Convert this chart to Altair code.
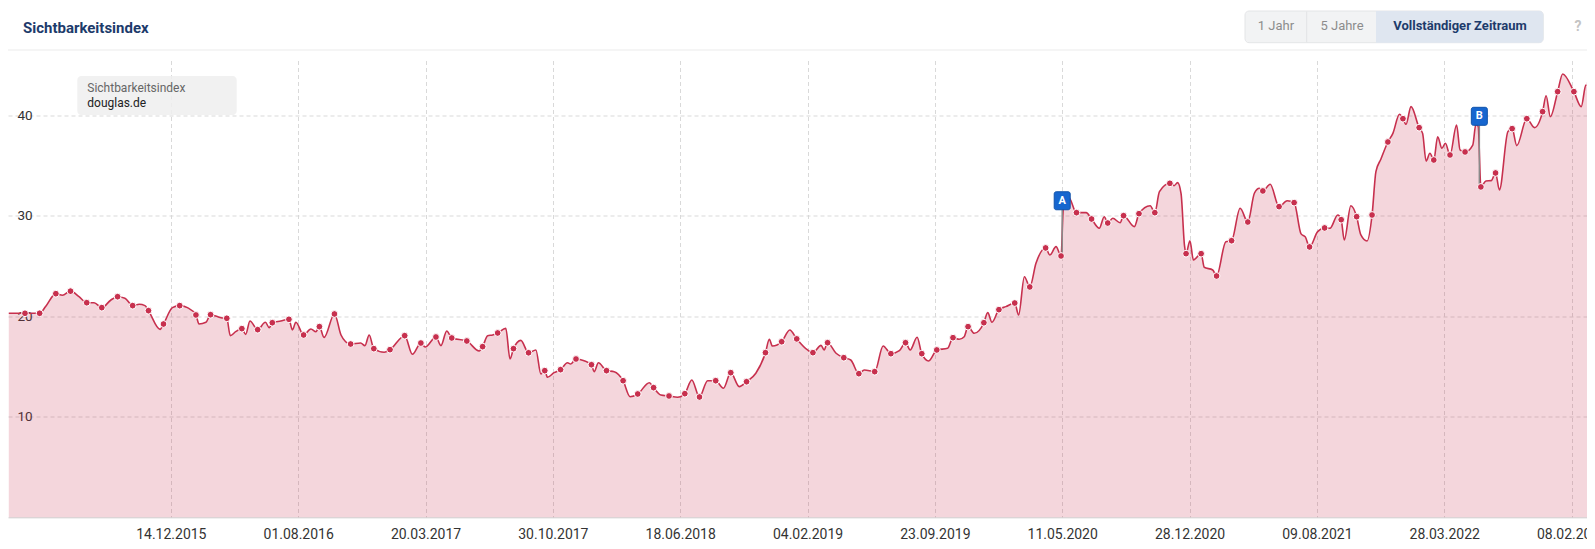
import altair as alt
import pandas as pd

# ---------------- data ----------------
metric_name = "Sichtbarkeitsindex"
domain_name = "douglas.de"
range_buttons = ["1 Jahr", "5 Jahre", "Vollständiger Zeitraum"]

tick_week = [42, 75, 108, 141, 174, 207, 240, 273, 306, 339, 372, 405]
tick_label = ["14.12.2015", "01.08.2016", "20.03.2017", "30.10.2017", "18.06.2018",
              "04.02.2019", "23.09.2019", "11.05.2020", "28.12.2020", "09.08.2021",
              "28.03.2022", "08.02.2023"]
y_ticks = [10, 20, 30, 40]

line_week = [0, 4.2, 8.0, 9.6, 12.2, 13.9, 16.0, 18.2, 20.2, 22.1, 24.1, 26.4, 28.2, 30.1, 32.1,
             33.8, 35.3, 36.2, 39.2, 40.1, 42.4, 44.3, 46.3, 48.5, 49.3, 51.1, 52.3, 55.0, 56.5,
             57.4, 58.8, 60.4, 61.4, 62.5, 64.5, 66.5, 67.5, 68.3, 70.5, 72.6, 73.5, 74.4, 76.4,
             78.3, 79.6, 80.5, 81.7, 84.4, 86.1, 87.3, 88.6, 91.2, 92.3, 93.4, 94.6, 97.3, 98.8,
             102.6, 104.6, 106.8, 107.9, 110.7, 112.0, 113.5, 114.8, 118.7, 121.9, 122.8, 124.1,
             125.4, 126.7, 128.8, 129.9, 130.8, 132.7, 134.7, 136.6, 137.9, 138.9, 139.6, 141.3,
             143.0, 144.8, 145.6, 147.0, 149.1, 151.0, 151.7, 152.8, 154.9, 156.9, 159.2, 161.0,
             163.0, 166.0, 167.1, 169.0, 171.1, 173.3, 175.2, 177.0, 179.0, 181.1, 183.2, 185.2,
             187.1, 189.3, 191.2, 193.6, 196.1, 197.1, 197.9, 200.3, 202.4, 204.2, 207.0, 208.4,
             210.5, 211.3, 212.2, 214.4, 216.4, 218.2, 220.3, 221.7, 224.4, 226.6, 228.6, 230.8,
             232.4, 233.6, 235.4, 236.6, 238.4, 240.5, 243.3, 244.7, 246.3, 247.6, 248.6, 250.2,
             252.7, 253.7, 254.8, 256.6, 258.4, 260.7, 261.7, 263.2, 264.6, 266.2, 268.7, 269.8,
             271.4, 272.7, 273.3, 274.6, 276.7, 279.2, 280.6, 282.6, 283.9, 284.8, 286.1, 288.0,
             288.9, 291.7, 292.9, 295.8, 297.0, 298.2, 300.9, 302.0, 302.9, 303.8, 304.7, 305.1,
             306.1, 307.0, 309.0, 309.8, 312.0, 313.0, 315.4, 316.9, 319.1, 321.1, 322.8, 324.1,
             325.0, 326.9, 329.2, 331.3, 333.1, 334.9, 336.0, 337.1, 339.2, 341.0, 342.4, 344.4,
             345.3, 346.1, 347.8, 349.3, 350.4, 352.0, 353.3, 354.3, 355.6, 357.4, 358.7, 360.4,
             361.3, 362.1, 363.4, 365.5, 366.4, 367.3, 368.3, 369.3, 370.3, 371.4, 372.3, 373.5,
             375.2, 376.1, 377.4, 379.4, 380.2, 380.8, 381.5, 382.8, 384.2, 385.3, 386.3, 388.5,
             389.6, 390.8, 393.4, 395.4, 397.5, 398.4, 399.5, 401.4, 402.7, 405.6, 407.5, 408.7,
             409.8, 410.5, 411.1]
line_value = [20.3, 20.3, 20.3, 21.0, 22.25, 22.1, 22.5, 21.95, 21.35, 21.35, 20.86, 21.6, 21.95,
              21.8, 21.06, 21.2, 21.06, 20.56, 18.7, 19.23, 20.86, 21.06, 20.86, 20.13, 19.23, 19.4,
              20.16, 19.86, 19.8, 18.07, 18.47, 18.77, 18.2, 19.53, 18.67, 19.4, 18.87, 19.36, 19.53,
              19.7, 18.64, 19.4, 18.14, 18.74, 18.47, 18.97, 17.9, 20.23, 18.14, 17.47, 17.24, 17.34,
              17.08, 18.14, 16.78, 16.42, 16.68, 18.07, 16.22, 17.34, 16.94, 17.94, 17.08, 18.54,
              17.84, 17.54, 16.55, 16.98, 18.07, 18.14, 18.34, 18.8, 15.75, 16.78, 17.6, 16.37,
              16.65, 14.26, 14.59, 13.93, 14.39, 14.69, 15.38, 15.25, 15.75, 15.58, 15.18, 14.49,
              15.38, 14.59, 14.49, 13.59, 12.0, 12.27, 13.39, 12.9, 12.17, 12.07, 11.94, 12.3, 13.66,
              11.97, 13.59, 13.59, 12.84, 14.39, 13.0, 13.49, 14.33, 16.38, 17.71, 17.04, 17.47,
              18.64, 17.75, 16.65, 16.38, 17.11, 16.65, 17.37, 16.32, 15.88, 15.65, 14.29, 14.66,
              14.49, 17.05, 16.28, 16.58, 17.37, 16.65, 17.91, 16.28, 15.55, 16.65, 16.81, 17.87,
              17.71, 17.97, 18.97, 18.31, 19.36, 20.36, 19.4, 20.66, 20.96, 21.32, 20.13, 23.94,
              22.92, 25.27, 26.8, 26.1, 26.93, 26.0, 30.8, 31.9, 30.31, 30.31, 29.68, 28.76, 29.91,
              29.28, 29.75, 29.31, 30.01, 28.92, 30.21, 31.0, 30.31, 32.4, 33.23, 33.0, 33.3, 32.2,
              27.0, 26.23, 27.52, 25.6, 26.23, 24.88, 24.61, 24.01, 27.42, 27.52, 30.75, 29.38,
              32.24, 32.74, 32.47, 33.13, 30.91, 31.5, 31.31, 28.2, 27.9, 26.9, 28.42, 28.79, 28.76,
              30.08, 29.61, 27.59, 31.0, 29.91, 28.09, 27.49, 30.08, 34.39, 35.65, 37.34, 38.2,
              40.1, 39.66, 39.1, 40.86, 38.77, 38.2, 35.45, 36.22, 35.55, 37.87, 36.72, 37.21,
              36.05, 39.03, 36.55, 36.35, 37.04, 39.1, 38.9, 32.87, 33.46, 33.5, 34.26, 32.57,
              38.37, 38.67, 36.98, 39.66, 38.77, 40.36, 41.95, 39.86, 42.35, 44.11, 42.35, 40.86,
              43.0, 43.11, 45.4, 45.0]

dot_week = [4.2, 8.0, 12.2, 16.0, 20.2, 24.1, 28.2, 32.1, 36.2, 40.1, 44.3, 48.5, 52.3, 56.5,
            60.4, 64.5, 68.3, 72.6, 76.4, 80.5, 84.4, 88.6, 94.6, 98.8, 102.6, 106.8, 110.7,
            114.8, 118.7, 122.8, 126.7, 130.8, 134.7, 138.9, 143.0, 147.0, 151.0, 154.9, 159.2,
            163.0, 167.1, 171.1, 175.2, 179.0, 183.2, 187.1, 191.2, 196.1, 200.3, 204.2, 208.4,
            212.2, 216.4, 220.3, 224.4, 228.6, 232.4, 236.6, 240.5, 244.7, 248.6, 252.7, 256.6,
            260.7, 264.6, 268.7, 272.7, 276.7, 280.6, 284.8, 288.9, 292.9, 297.0, 300.9, 305.1,
            309.0, 313.0, 316.9, 321.1, 325.0, 329.2, 333.1, 337.1, 341.0, 345.3, 349.3, 353.3,
            357.4, 361.3, 365.5, 369.3, 373.5, 377.4, 381.5, 385.3, 389.6, 393.4, 397.5, 401.4,
            405.6, 409.8]
dot_value = [20.3, 20.3, 22.25, 22.5, 21.35, 20.86, 21.95, 21.06, 20.56, 19.23, 21.06, 20.13,
             20.16, 19.8, 18.77, 18.67, 19.36, 19.7, 18.14, 18.97, 20.23, 17.24, 16.78, 16.68,
             18.07, 17.34, 17.94, 17.84, 17.54, 16.98, 18.34, 16.78, 16.37, 14.59, 14.69, 15.75,
             15.18, 14.59, 13.59, 12.27, 12.9, 12.07, 12.3, 11.97, 13.59, 14.39, 13.49, 16.38,
             17.47, 17.75, 16.38, 17.37, 15.88, 14.29, 14.49, 16.28, 17.37, 16.28, 16.65, 17.87,
             18.97, 19.36, 20.66, 21.32, 22.92, 26.8, 26.0, 30.31, 29.68, 29.28, 30.01, 30.21,
             30.31, 33.23, 26.23, 26.23, 24.01, 27.52, 29.38, 32.47, 30.91, 31.31, 26.9, 28.79,
             29.61, 29.91, 30.08, 37.34, 39.66, 38.77, 35.55, 36.05, 36.35, 32.87, 34.26, 38.67,
             39.66, 40.36, 42.35, 42.35, 43.11]

event_label = ["A", "B"]
event_week = [273.0, 381.1]
event_top = [30.6, 39.0]
event_low = [26.0, 32.9]

# ---------------- styling ----------------
RED = "#c7304e"
NAVY = "#1d3b6b"
FONT = "Roboto"
W = 1579
H = 456.8

xs = alt.Scale(domain=[-0.2, 409.0], nice=False, zero=False)
ys = alt.Scale(domain=[0, 45.45], nice=False, zero=True)

label_expr = ("[" + ",".join("'" + t + "'" for t in tick_label) + "][indexof(["
              + ",".join(str(v) for v in tick_week) + "], datum.value)]")

x_axis = alt.Axis(values=tick_week, labelExpr=label_expr, title=None, grid=True,
                  gridColor="#d9d9d9", gridDash=[4, 3], gridWidth=1, ticks=False, tickSize=0,
                  domain=True, domainColor="#cfcfcf", labelFont=FONT, labelFontSize=14,
                  labelColor="#333333", labelPadding=17, labelBaseline="middle",
                  labelFlush=False, labelOverlap=False)
y_axis = alt.Axis(values=y_ticks, title=None, grid=True, gridColor="#d9d9d9", gridDash=[4, 3],
                  ticks=False, tickSize=0, domain=False, labelAlign="left", labelPadding=-9,
                  labelBaseline="middle", labelFont=FONT, labelFontSize=13.5, labelColor="#333333")


def X(field):
    return alt.X(field, scale=xs, axis=x_axis)


def Y(field):
    return alt.Y(field, scale=ys, axis=y_axis)


line_df = pd.DataFrame({"week": line_week, "value": line_value})
dot_df = pd.DataFrame({"week": dot_week, "value": dot_value})
event_df = pd.DataFrame({"label": event_label, "week": event_week,
                         "top": event_top, "low": event_low})

area = alt.Chart(line_df).mark_area(interpolate="monotone", color=RED, opacity=0.2).encode(
    x=X("week:Q"), y=Y("value:Q"))
line = alt.Chart(line_df).mark_line(interpolate="monotone", color=RED, strokeWidth=1.6).encode(
    x=X("week:Q"), y=Y("value:Q"))
stems = alt.Chart(event_df).mark_rule(color="#8a8a8a", strokeWidth=1.5).encode(
    x=X("week:Q"), y=Y("top:Q"), y2="low:Q")
dots = alt.Chart(dot_df).mark_circle(size=46, color=RED, opacity=1, stroke="white",
                                     strokeWidth=1).encode(x=X("week:Q"), y=Y("value:Q"))
flags = alt.Chart(event_df).mark_rect(width=16, height=18, cornerRadius=2, color="#1666cf",
                                      stroke="#0f52aa", strokeWidth=1, yOffset=-9).encode(
    x=X("week:Q"), y=Y("top:Q"))
flag_text = alt.Chart(event_df).mark_text(color="white", font=FONT, fontWeight="bold",
                                          fontSize=11, yOffset=-9, baseline="middle").encode(
    x=X("week:Q"), y=Y("top:Q"), text="label:N")


def text_layer(txt, x, y, **kw):
    return alt.Chart(pd.DataFrame({"t": [txt]})).mark_text(font=FONT, baseline="middle", **kw).encode(
        text="t:N", x=alt.value(x), y=alt.value(y))


def box_layer(x, x2, y, y2, **kw):
    return alt.Chart(pd.DataFrame({"t": [0]})).mark_rect(**kw).encode(
        x=alt.value(x), x2=alt.value(x2), y=alt.value(y), y2=alt.value(y2))


# header of the card
separator = alt.Chart(pd.DataFrame({"t": [0]})).mark_rule(color="#ebebeb", strokeWidth=1).encode(
    x=alt.value(-1), x2=alt.value(W), y=alt.value(-10.5))
title = text_layer(metric_name, 15, -32.2, align="left", fontSize=15, fontWeight="bold", color=NAVY)

btn_centers = [1268, 1334, 1452]
btn_bg = box_layer(1237, 1535.3, -49.5, -17.8, color="#f2f3f4", stroke="#e4e5e7",
                   strokeWidth=1, cornerRadius=4)
btn_sel = box_layer(1368, 1535.3, -49.5, -17.8, color="#dfe6f0", cornerRadiusTopRight=4,
                    cornerRadiusBottomRight=4)
btn_div = alt.Chart(pd.DataFrame({"t": [0]})).mark_rule(color="#e2e3e5").encode(
    x=alt.value(1298.7), y=alt.value(-49), y2=alt.value(-18.3))
btn_texts = []
for i, b in enumerate(range_buttons):
    if i == 2:
        btn_texts.append(text_layer(b, btn_centers[i], -34, align="center", fontSize=13,
                                    fontWeight="bold", color=NAVY))
    else:
        btn_texts.append(text_layer(b, btn_centers[i], -34, align="center", fontSize=13,
                                    color="#8c8c8c"))
help_mark = text_layer("?", 1570, -33.5, align="center", fontSize=14, fontWeight="bold",
                       color="#c4c4c4")

# legend box inside the plot
legend_bg = box_layer(69.3, 228.7, 15.5, 54.5, color="#eeeeee", opacity=0.85, cornerRadius=4)
legend_t1 = text_layer(metric_name, 79.3, 27.2, align="left", fontSize=12, color="#666666")
legend_t2 = text_layer(domain_name, 79.3, 42.8, align="left", fontSize=12, color="#222222")

chart = alt.layer(
    area, line, stems, dots, flags, flag_text,
    legend_bg, legend_t1, legend_t2,
    separator, title, btn_bg, btn_sel, btn_div, *btn_texts, help_mark,
).properties(
    width=W, height=H,
    autosize=alt.AutoSizeParams(type="none"),
    padding={"left": 0, "top": 52.5, "right": 0, "bottom": 26},
    background="white",
).configure_view(strokeWidth=0)

chart.save("out.html", embed_options={"renderer": "svg", "actions": False})
